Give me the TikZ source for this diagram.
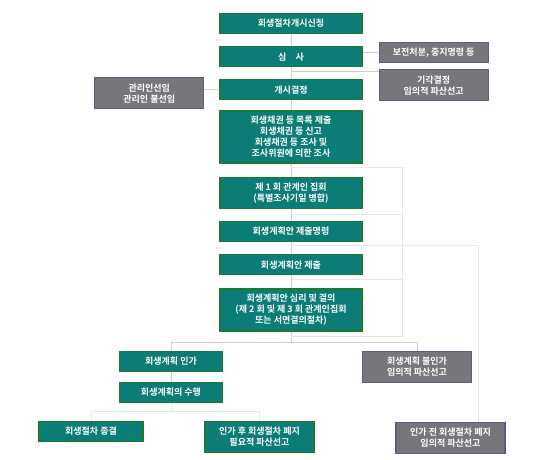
\documentclass[tikz,border=0pt]{standalone}
\usepackage{fontspec}
\setmainfont{Noto Sans CJK KR}[BoldFont={Noto Sans CJK KR Bold}]
\usetikzlibrary{positioning,calc}
\definecolor{stagegreen}{HTML}{0B7D76}
\definecolor{stageedge}{HTML}{1F7A30}
\definecolor{sidegray}{HTML}{77767B}
\definecolor{sideedge}{HTML}{5F5B7A}
\definecolor{linkgray}{HTML}{CFCFCF}
\definecolor{faintgray}{HTML}{E6E6E6}

\begin{document}
\begin{tikzpicture}[x=1pt, y=1pt,
    box/.style={draw, line width=1.2pt, text=white, font=\bfseries\fontsize{9}{11}\selectfont,
      align=center, inner xsep=2pt, inner ysep=1pt, minimum height=20pt},
    stage/.style={box, fill=stagegreen, draw=stageedge, minimum width=142pt},
    side/.style={box, fill=sidegray, draw=sideedge, minimum width=109pt},
    two/.style={minimum height=31pt},
    three/.style={minimum height=42pt},
    four/.style={minimum height=52pt},
    link/.style={draw=linkgray, line width=0.8pt},
    faint/.style={draw=faintgray, line width=0.7pt}]
    \useasboundingbox (0,0) rectangle (550,-460);

    % Main procedure
    \node (st1) [stage] at (291,-23.5) {회생절차개시신청};
    \node (st2) [stage, below=12pt of st1] {심\quad 사};
    \node (st3) [stage, below=12pt of st2] {개시결정};
    \node (st4) [stage, four, below=10pt of st3] {회생채권 등 목록 제출\\회생채권 등 신고\\회생채권 등 조사 및\\조사위원에 의한 조사};
    \node (st5) [stage, two, below=13pt of st4] {제 1 회 관계인 집회\\(특별조사기일 병합)};
    \node (st6) [stage, below=12pt of st5] {회생계획안 제출명령};
    \node (st7) [stage, below=12pt of st6] {회생계획안 제출};
    \node (st8) [stage, three, below=13pt of st7] {회생계획안 심리 및 결의\\(제 2 회 및 제 3 회 관계인집회\\또는 서면결의절차)};

    % Side decisions
    \node (hold) [side, right=16pt of st2, yshift=4pt] {보전처분, 중지명령 등};
    \node (dismiss) [side, two, below=6pt of hold] {기각결정\\임의적 파산선고};
    \node (trustee) [side, two, left=15pt of st3, yshift=-3.5pt] {관리인선임\\관리인 불선임};

    % After the vote
    \node (approve) [stage, minimum width=103pt, below=19pt of st8, xshift=-120pt] {회생계획 인가};
    \node (perform) [stage, minimum width=103pt, below=10pt of approve] {회생계획의 수행};
    \node (reject) [side, two, below=19pt of st8, xshift=126pt] {회생계획 불인가\\임의적 파산선고};
    \node (close) [stage, minimum width=104pt, below=18pt of perform, xshift=-80pt] {회생절차 종결};
    \node (abolish) [stage, two, minimum width=109pt, below=18pt of perform, xshift=88.5pt] {인가 후 회생절차 폐지\\필요적 파산선고};
    \node (abolish0) [side, two, below=39pt of reject, xshift=33.5pt] {인가 전 회생절차 폐지\\임의적 파산선고};

    % Junctions
    \coordinate (j1) at ($(st2.south)!0.35!(st3.north)$);
    \coordinate (j2) at ($(st8.south)+(0,-11pt)$);
    \coordinate (j3) at ($(perform.south)+(0,-8pt)$);
    \coordinate (b1) at ($(st4.south)+(0,-4pt)$);
    \coordinate (b2) at ($(st5.south)+(0,-5pt)$);
    \coordinate (b3) at ($(st6.south)+(0,-3.5pt)$);
    \coordinate (b4) at ($(st7.south)+(0,-4pt)$);
    \coordinate (b5) at ($(st8.south)+(0,-5pt)$);
    \coordinate (rx) at ($(st4.east)+(40pt,0)$);
    \coordinate (fx) at ($(abolish0.north)+(27.5pt,0)$);

    % Trunk
    \draw[link] (st1) -- (st2);
    \draw[link] (st2) -- (st3);
    \draw[link] (st3) -- (st4);
    \draw[link] (st4) -- (st5);
    \draw[link] (st5) -- (st6);
    \draw[link] (st6) -- (st7);
    \draw[link] (st7) -- (st8);
    \draw[link] (st8) -- (j2);

    % Branches
    \draw[link] (st2.east |- hold) -- (hold);
    \draw[link] (j1) -- (j1 -| dismiss.west);
    \draw[link] (st3) -- (st3 -| trustee.east);
    \draw[faint] (b1) -- (b1 -| rx) -- (b5 -| rx) -- (b5);
    \draw[faint] (b2) -- (b2 -| rx);
    \draw[faint] (b4) -- (b4 -| rx);
    \draw[faint] (b3) -- (b3 -| fx) -- (fx);
    \draw[link] (approve) |- (j2) -| (reject);
    \draw[link] (approve) -- (perform);
    \draw[faint] (perform) -- (j3);
    \draw[faint] (close) |- (j3) -| (abolish);
  \end{tikzpicture}
\end{document}
